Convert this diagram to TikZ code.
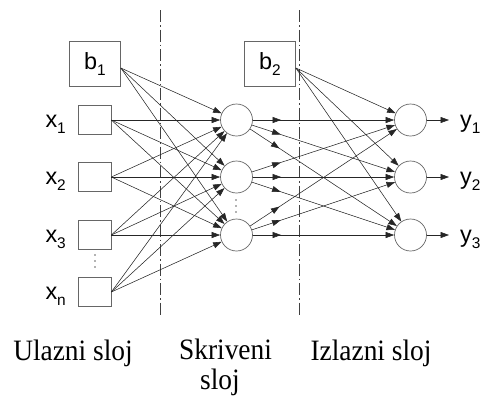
\documentclass[tikz,border=0pt]{standalone}
\usepackage{fontspec}
\setmainfont{Liberation Serif}
\newfontfamily\lsans{Liberation Sans}
\usetikzlibrary{arrows.meta,decorations.markings}
\newcommand\sublab[2]{{\lsans\fontsize{23.5}{23.5}\selectfont #1\raisebox{-6bp}{\fontsize{15.5}{15.5}\selectfont #2}}}
\newcommand\layertext[1]{\scalebox{1}[1.08]{#1}}
\begin{document}
\begin{tikzpicture}[x=1bp,y=-1bp,
  inbox/.style={draw=black!60, line width=0.7bp, minimum width=33bp, minimum height=29bp, inner sep=0pt},
  biasbox/.style={draw=black!60, line width=0.7bp, minimum width=51bp, minimum height=45bp, inner sep=0pt},
  neuron/.style={circle, draw=black!60, line width=0.7bp, minimum size=32bp, inner sep=0pt},
  conn/.style={draw=black!85, line width=0.55bp, -{Triangle[length=8.5bp,width=6bp]}},
  midconn/.style={conn, postaction={decorate}, decoration={markings, mark=at position 0.2 with {\arrow{Triangle[length=8.5bp,width=6bp]}}}},
  divider/.style={draw=black!75, line width=0.7bp, dash pattern=on 12bp off 3bp on 1.5bp off 3bp},
  lab/.style={anchor=base east, inner sep=0pt},
  olab/.style={anchor=base west, inner sep=0pt},
  layer/.style={anchor=base, inner sep=0pt, font=\fontsize{27.5}{30}\selectfont},
  vdot/.style={fill=black!60}
]
\useasboundingbox (0,0) rectangle (484,397);

% dividers
\coordinate (d1t) at (160,10); \coordinate (d1b) at (160,315);
\coordinate (d2t) at (299,10); \coordinate (d2b) at (299,315);
\draw[divider] (d1t) -- (d1b);
\draw[divider] (d2t) -- (d2b);

% input layer
\node[biasbox] (b1) at (95,64) {\sublab{b}{1}};
\node[inbox] (x1) at (94.5,120) {};
\node[inbox] (x2) at (94.5,177) {};
\node[inbox] (x3) at (94.5,235) {};
\node[inbox] (xn) at (94.5,292) {};
\node[lab] (lx1) at (66,127) {\sublab{x}{1}};
\node[lab] (lx2) at (66,184) {\sublab{x}{2}};
\node[lab] (lx3) at (66,242) {\sublab{x}{3}};
\node[lab] (lxn) at (66,299) {\sublab{x}{n}};
\fill[vdot] (95,255) circle (0.8);
\fill[vdot] (95,261) circle (0.8);
\fill[vdot] (95,267) circle (0.8);

% hidden layer
\node[biasbox] (b2) at (270,64) {\sublab{b}{2}};
\node[neuron] (h1) at (236.5,120) {};
\node[neuron] (h2) at (236.5,177) {};
\node[neuron] (h3) at (236.5,235) {};
\fill[vdot] (236,200) circle (0.8);
\fill[vdot] (236,206) circle (0.8);
\fill[vdot] (236,212) circle (0.8);

% output layer
\node[neuron] (o1) at (410.5,120) {};
\node[neuron] (o2) at (410.5,177) {};
\node[neuron] (o3) at (410.5,235) {};
\coordinate (e1) at (449,120);
\coordinate (e2) at (449,177);
\coordinate (e3) at (449,235);
\node[olab] (y1) at (460,127) {\sublab{y}{1}};
\node[olab] (y2) at (460,184) {\sublab{y}{2}};
\node[olab] (y3) at (460,242) {\sublab{y}{3}};

% connections input -> hidden
\foreach \h in {h1,h2,h3}{
  \draw[conn] ([yshift=-4bp]b1.east) -- (\h);
  \foreach \x in {x1,x2,x3,xn}{
    \draw[conn] (\x.east) -- (\h);
  }
}
% hidden -> output
\foreach \o in {o1,o2,o3}{
  \draw[conn] ([yshift=-4bp]b2.east) -- (\o);
  \foreach \h in {h1,h2,h3}{
    \draw[midconn] (\h) -- (\o);
  }
}
\draw[conn] (o1) -- (e1);
\draw[conn] (o2) -- (e2);
\draw[conn] (o3) -- (e3);

% layer labels
\node[layer] (L1) at (73,360) {\layertext{Ulazni sloj}};
\node[layer] (L2) at (225.5,359) {\layertext{Skriveni}};
\node[layer] (L2b) at (220,389) {\layertext{sloj}};
\node[layer] (L3) at (371,360) {\layertext{Izlazni sloj}};
\end{tikzpicture}
\end{document}
